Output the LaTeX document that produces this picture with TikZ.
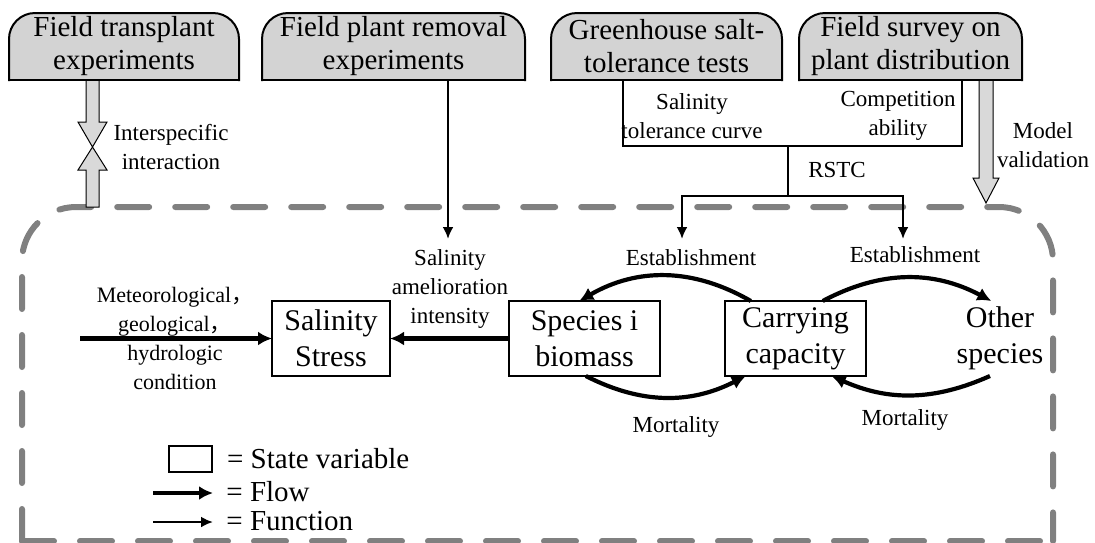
\documentclass[tikz,border=0pt]{standalone}
\usepackage{fontspec}
\setmainfont{Liberation Serif}
\newfontfamily\cjk{Noto Sans CJK SC}
\usetikzlibrary{arrows.meta, positioning, backgrounds}
\definecolor{cBox}{HTML}{D3D3D3}
\definecolor{cArrow}{HTML}{D9D9D9}
\definecolor{cBorder}{HTML}{808080}

\begin{document}
\begin{tikzpicture}[
  x=0.5pt, y=-0.5pt,
  topbox/.style={rectangle, minimum height=33.5pt, inner sep=0pt, outer sep=0pt, align=center, font=\fontsize{14.5}{16.5}\selectfont},
  state/.style={rectangle, draw, line width=1.25pt, minimum height=37.5pt, inner sep=0pt, outer sep=0pt, align=center, font=\fontsize{15}{18}\selectfont},
  lbl/.style={align=center, inner sep=1pt, font=\fontsize{11.5}{14.5}\selectfont},
  legtxt/.style={anchor=west, inner sep=0pt, font=\fontsize{14.5}{17}\selectfont},
  flow/.style={-{Latex[length=7pt, width=7pt]}, line width=2.1pt},
  func/.style={line width=1.2pt},
  funcarrow/.style={func, -{Latex[length=6pt, width=5.5pt]}},
  blockarrow/.style={fill=cArrow, draw, line width=0.5pt},
  border/.style={draw=cBorder, line width=3pt, dash pattern=on 16pt off 13pt, line cap=round}
]
\useasboundingbox (0,0) rectangle (1095,542);

% model boundary
\draw[border, rounded corners=27pt] (22,541) -- (22,207) -- (1053,207) -- (1053,541);
\draw[border] (22,541) -- (1053,541);

% data sources
\node[topbox, minimum width=115pt] (transplant) at (124,46.5) {Field transplant\\experiments};
\node[topbox, minimum width=131.5pt, right=11.5pt of transplant] (removal) {Field plant removal\\experiments};
\node[topbox, minimum width=115.5pt, right=13pt of removal] (greenhouse) {Greenhouse salt-\\tolerance tests};
\node[topbox, minimum width=111.5pt, right=8.5pt of greenhouse] (survey) {Field survey on\\plant distribution};

\begin{scope}[on background layer]
\foreach \n in {transplant,removal,greenhouse,survey} {
  \draw[fill=cBox, line width=1pt, line cap=rect, rounded corners=13pt] (\n.south west) -- (\n.north west) -- (\n.north east) -- (\n.south east);
  \draw[line width=1pt, line cap=rect] (\n.south west) -- (\n.south east);
}
\end{scope}

% state variables
\node[state, minimum width=59pt] (stress) at (331,338.5) {Salinity\\Stress};
\node[state, minimum width=75.5pt, right=59.5pt of stress] (species) {Species i\\biomass};
\node[state, minimum width=70.5pt, right=32.5pt of species] (carry) {Carrying\\capacity};
\node[state, draw=none, minimum width=70pt] (other) at (1000,338.5) {Other\\species};

% labels
\node[lbl, font=\fontsize{11}{14.5}\selectfont] (metlbl) at (175,338) {Meteorological{\cjk ，}\\geological{\cjk ，}\\hydrologic\\condition};
\node[lbl] (amellbl) at (450,289) {Salinity\\amelioration\\intensity};
\node[lbl] (intlbl) at (171,147.5) {Interspecific\\interaction};
\node[lbl] (tollbl) at (692,116) {Salinity\\tolerance curve};
\node[lbl] (complbl) at (898,116) {Competition\\ability};
\node[lbl] (rstclbl) at (837,170) {RSTC};
\node[lbl] (vallbl) at (1043,145) {Model\\validation};
\node[lbl] (est1) at (691,258) {Establishment};
\node[lbl] (est2) at (915,255) {Establishment};
\node[lbl] (mort1) at (676,427) {Mortality};
\node[lbl] (mort2) at (905,420) {Mortality};

% flows
\coordinate (metIn) at (80,338.5);
\draw[flow] (metIn) -- (stress);
\draw[flow] (species) -- (stress);
\draw[flow] (carry.140) to[bend right=30] (species.98);
\draw[flow] (carry.54) to[bend left=28] (other.103);
\draw[flow] (species.272) to[bend right=27] (carry.217);
\draw[flow] (other.255) to[bend left=24] (carry.314);

% functions
\coordinate (remIn) at (448,239);
\coordinate (ghJoin) at (623,146);
\coordinate (svJoin) at (962,146);
\coordinate (rstcJoin) at (788,196);
\coordinate (estInL) at (682,239);
\coordinate (estInR) at (903,239);
\draw[funcarrow] (removal.south -| remIn) -- (remIn);
\draw[func] (greenhouse.south -| ghJoin) -- (ghJoin) -- (svJoin) -- (survey.south -| svJoin);
\draw[func] (ghJoin -| rstcJoin) -- (rstcJoin);
\draw[func, {Latex[length=6pt, width=5.5pt]}-{Latex[length=6pt, width=5.5pt]}] (estInL) |- (rstcJoin) -| (estInR);

% block arrows
\draw[blockarrow] (86,81) -- (86,122) -- (78,122) -- (92.5,147) -- (107,122) -- (99,122) -- (99,81);
\draw[blockarrow] (86,207) -- (86,170) -- (78,170) -- (92.5,147) -- (107,170) -- (99,170) -- (99,207) -- cycle;
\draw[blockarrow] (979,81) -- (979,178) -- (973,178) -- (986,203) -- (999,178) -- (993,178) -- (993,81);

% legend
\node[rectangle, draw, line width=0.7pt, minimum width=21.5pt, minimum height=13pt, inner sep=0pt] (legbox) at (190.5,459) {};
\node[legtxt, right=7pt of legbox] (legstate) {= State variable};
\coordinate (legflowA) at (153,493);
\coordinate (legflowB) at (213,493);
\draw[flow] (legflowA) -- (legflowB);
\node[legtxt] (legflow) at (226,492) {= Flow};
\coordinate (legfuncA) at (153,522);
\coordinate (legfuncB) at (213,522);
\draw[funcarrow] (legfuncA) -- (legfuncB);
\node[legtxt] (legfunc) at (226,521) {= Function};
\end{tikzpicture}
\end{document}
